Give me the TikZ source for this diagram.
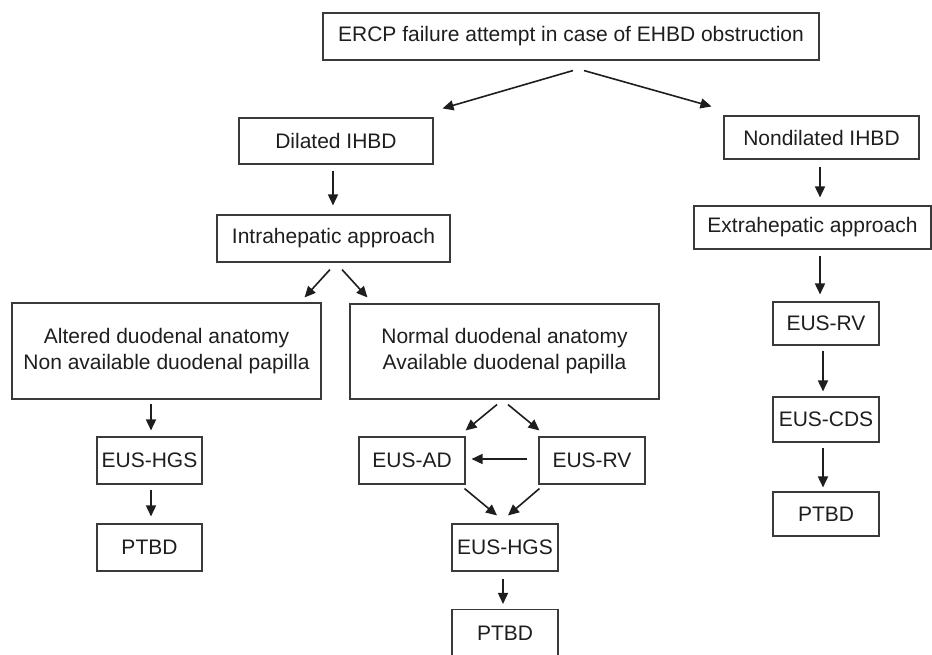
\documentclass[tikz,border=0pt]{standalone}
\usepackage{fontspec}
\setmainfont{Liberation Sans}
\usetikzlibrary{arrows.meta,calc}
\definecolor{txt}{HTML}{1E1E1E}
\definecolor{ln}{HTML}{3A3A3A}
\begin{document}
\begin{tikzpicture}[x=1pt,y=-1pt,
  box/.style={draw=ln,line width=1.1pt,inner sep=0pt,text=txt,align=center,
    font=\fontsize{21}{26}\selectfont},
  arr/.style={draw=txt,line width=1.6pt,-{Triangle[length=11pt,width=10pt]}}]
\useasboundingbox (0,0) rectangle (932,654);
% nodes
\node[box,minimum width=496pt,minimum height=47pt] (top) at (571,36.5) {ERCP failure attempt in case of EHBD obstruction};
\node[box,minimum width=194pt,minimum height=46pt] (dil) at (336,141) {Dilated IHBD};
\node[box,minimum width=195pt,minimum height=43pt] (nondil) at (821.5,137.5) {Nondilated IHBD};
\node[box,minimum width=233pt,minimum height=47pt] (intra) at (333.5,238.5) {Intrahepatic approach};
\node[box,minimum width=237pt,minimum height=43pt] (extra) at (812.5,227.5) {Extrahepatic approach};
\node[box,minimum width=309pt,minimum height=96pt] (alt) at (166.5,351) {Altered duodenal anatomy\\Non available duodenal papilla};
\node[box,minimum width=309pt,minimum height=95pt] (norm) at (504.5,351.5) {Normal duodenal anatomy\\Available duodenal papilla};
\node[box,minimum width=105pt,minimum height=47pt] (hgsL) at (149.5,460.5) {EUS-HGS};
\node[box,minimum width=105pt,minimum height=47pt] (ptbdL) at (149.5,547.5) {PTBD};
\node[box,minimum width=106pt,minimum height=47pt] (ad) at (412,460.5) {EUS-AD};
\node[box,minimum width=106pt,minimum height=47pt] (rvM) at (592,460.5) {EUS-RV};
\node[box,minimum width=106pt,minimum height=47pt] (hgsM) at (505,547.5) {EUS-HGS};
\node[box,minimum width=106pt,minimum height=47pt] (ptbdM) at (505,633) {PTBD};
\node[box,minimum width=106pt,minimum height=43pt] (rvR) at (826,323.5) {EUS-RV};
\node[box,minimum width=106pt,minimum height=45pt] (cds) at (826,419.5) {EUS-CDS};
\node[box,minimum width=106pt,minimum height=44pt] (ptbdR) at (826,514) {PTBD};
% connectors
\draw[arr] ($(top.south)+(2,10)$) -- ($(dil.north east)+(9,-9)$);
\draw[arr] ($(top.south)+(13,10)$) -- ($(nondil.north west)+(-12,-9)$);
\draw[arr] ($(dil.south)+(-3,6)$) -- ($(intra.north)+(-0.5,-9)$);
\draw[arr] ($(nondil.south)+(-1.5,7)$) -- ($(extra.north)+(7.5,-8)$);
\draw[arr] ($(extra.south)+(7.5,6)$) -- ($(rvR.north)+(-6,-7)$);
\draw[arr] ($(rvR.south)+(-3,5)$) -- ($(cds.north)+(-3,-5)$);
\draw[arr] ($(cds.south)+(-3,5)$) -- ($(ptbdR.north)+(-3,-4)$);
\draw[arr] ($(intra.south)+(-3.5,7)$) -- ($(alt.north east)+(-17,-5)$);
\draw[arr] ($(intra.south)+(8.5,7)$) -- ($(norm.north west)+(18,-6)$);
\draw[arr] ($(alt.south)+(-15.5,4)$) -- ($(hgsL.north)+(1.5,-6)$);
\draw[arr] ($(hgsL.south)+(1.5,5)$) -- ($(ptbdL.north)+(1.5,-7)$);
\draw[arr] ($(norm.south)+(-7.5,5)$) -- ($(ad.north east)+(0,-6)$);
\draw[arr] ($(norm.south)+(3.5,5)$) -- ($(rvM.north west)+(1,-6)$);
\draw[arr] ($(rvM.west)+(-11,-1.5)$) -- ($(ad.east)+(6,-1.5)$);
\draw[arr] ($(ad.south east)+(-1,4)$) -- ($(hgsM.north)+(-8,-8)$);
\draw[arr] ($(rvM.south west)+(1,4)$) -- ($(hgsM.north)+(3,-8)$);
\draw[arr] ($(hgsM.south)+(-2,7)$) -- ($(ptbdM.north)+(-2,-5)$);
\end{tikzpicture}
\end{document}
